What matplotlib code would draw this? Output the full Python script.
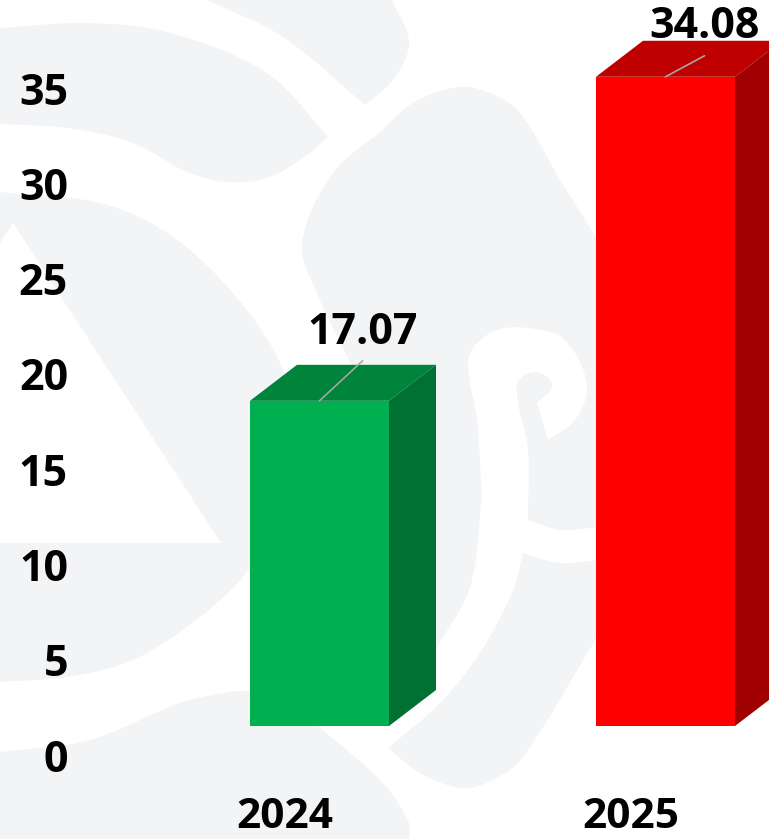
import matplotlib
matplotlib.use('Agg')
import matplotlib.pyplot as plt
from matplotlib.path import Path
from matplotlib.patches import PathPatch
from matplotlib.transforms import ScaledTranslation
import numpy as np

years = ['2024', '2025']
values = [17.07, 34.08]
y_ticks = [0, 5, 10, 15, 20, 25, 30, 35]

front_colors = ['#00B050', '#FF0000']
top_colors = ['#00843C', '#BF0000']
side_colors = ['#007033', '#A00000']
wm_color = '#F3F4F6'

W, H = 769, 839
PX_PER_UNIT = 19.05
PX_PER_CAT = 346

plt.rcParams['font.family'] = ['Open Sans', 'DejaVu Sans']
plt.rcParams['font.weight'] = 'bold'


def smooth(runs):
    # runs of points, corners only where two runs meet
    verts = [runs[0][0]]
    codes = [Path.MOVETO]
    for run in runs:
        p = np.array(run, float)
        for i in range(len(p) - 1):
            p1 = p[i]
            p2 = p[i + 1]
            seg = np.linalg.norm(p2 - p1)
            t1 = p2 - p[max(i - 1, 0)]
            t2 = p[min(i + 2, len(p) - 1)] - p1
            t1 = t1 / np.linalg.norm(t1)
            t2 = t2 / np.linalg.norm(t2)
            verts += [p1 + t1 * seg / 3, p2 - t2 * seg / 3, p2]
            codes += [Path.CURVE4] * 3
    verts.append(verts[0])
    codes.append(Path.CLOSEPOLY)
    return Path(np.array(verts, float), codes)


fig = plt.figure(figsize=(W / 100, H / 100), dpi=100)

# watermark behind the chart, in pixels
bg = fig.add_axes([0, 0, 1, 1])
bg.set_xlim(0, W)
bg.set_ylim(H, 0)
bg.axis('off')

shapes = [
    (wm_color, [[(0, 28), (83, 23), (167, 32), (267, 73), (328, 137)],
                [(328, 137), (303, 158), (267, 178), (227, 182), (187, 172), (133, 143), (67, 128), (0, 124)],
                [(0, 124), (0, 28)]]),
    (wm_color, [[(207, 0), (283, 37), (365, 105)],
                [(365, 105), (393, 80), (409, 43), (392, 0)],
                [(392, 0), (207, 0)]]),
    (wm_color, [[(0, 192), (100, 203), (167, 233), (233, 293), (283, 370), (292, 440), (285, 500), (250, 568),
                 (200, 617), (133, 660), (67, 677), (0, 682)],
                [(0, 682), (0, 192)]]),
    ('white', [[(0, 243), (13, 223)], [(13, 223), (221, 543)], [(221, 543), (0, 543)], [(0, 543), (0, 243)]]),
    (wm_color, [[(0, 752), (90, 740), (180, 703), (230, 692), (250, 692), (318, 726)],
                [(318, 726), (383, 783), (409, 823), (409, 839)],
                [(409, 839), (0, 839)], [(0, 839), (0, 752)]]),
    (wm_color, [[(380, 132), (333, 173), (302, 243), (317, 293), (350, 363)],
                [(350, 363), (400, 400)], [(400, 400), (400, 710)], [(400, 710), (388, 748)],
                [(388, 748), (420, 773), (462, 788), (493, 780), (523, 757), (597, 637)],
                [(597, 637), (640, 600)], [(640, 600), (640, 330)],
                [(640, 330), (597, 240), (560, 180), (520, 113), (490, 93), (458, 87), (413, 103), (380, 132)]]),
    ('white', [[(482, 497), (477, 420), (468, 365), (475, 345), (500, 329), (535, 329), (565, 340), (587, 385),
                (575, 420), (548, 440)],
               [(548, 440), (537, 403)],
               [(537, 403), (552, 385), (535, 372), (517, 385), (528, 450), (528, 520)],
               [(528, 520), (560, 530), (600, 527)], [(600, 527), (600, 560)],
               [(600, 560), (560, 563), (523, 553)],
               [(523, 553), (513, 590), (480, 653), (440, 703), (388, 748)],
               [(388, 748), (400, 710)], [(400, 710), (437, 647)],
               [(437, 647), (470, 587), (482, 497)]]),
]
for color, runs in shapes:
    bg.add_patch(PathPatch(smooth(runs), facecolor=color, edgecolor='none'))

# chart axes, y=0 at pixel row 757
left = 75
ax = fig.add_axes([left / W, (H - 757) / H, (W - left) / W, 757 / H])
ax.patch.set_alpha(0)
ax.set_ylim(0, 757 / PX_PER_UNIT)
ax.set_xlim((left - 285) / PX_PER_CAT, (W - 285) / PX_PER_CAT)
for s in ax.spines.values():
    s.set_visible(False)

x = np.arange(len(years))
ax.set_xticks(x, years)
ax.set_yticks(y_ticks)
ax.tick_params(axis='x', length=0, pad=29, labelsize=30.5)
ax.tick_params(axis='y', length=0, pad=5, labelsize=31)
for lbl in ax.get_yticklabels():
    lbl.set_transform(lbl.get_transform() + ScaledTranslation(0, 2 / 100, fig.dpi_scale_trans))

# fake 3D look of the original column chart
base = 31 / PX_PER_UNIT
bar_w = 139 / PX_PER_CAT
front_off = -35 / PX_PER_CAT
dx = 47 / PX_PER_CAT
dy = 36 / PX_PER_UNIT
label_off = [(43, 68), (39, 50)]
line_off = [(43, 40), (39, 21)]

for i, v in enumerate(values):
    x0 = x[i] + front_off
    x1 = x0 + bar_w
    y0 = base
    y1 = base + v
    ax.bar(x0, v, width=bar_w, bottom=base, align='edge', color=front_colors[i], linewidth=0, clip_on=False)
    ax.fill([x0, x0 + dx, x1 + dx, x1], [y1, y1 + dy, y1 + dy, y1], color=top_colors[i], linewidth=0, clip_on=False)
    ax.fill([x1, x1 + dx, x1 + dx, x1], [y0, y0 + dy, y1 + dy, y1], color=side_colors[i], linewidth=0, clip_on=False)
    xc = x0 + bar_w / 2
    ax.annotate('', xy=(xc, y1), xytext=line_off[i], textcoords='offset pixels',
                arrowprops=dict(arrowstyle='-', color='#A6A6A6', lw=1.2, shrinkA=0, shrinkB=0))
    ax.annotate(f'{v:.2f}', xy=(xc, y1), xytext=label_off[i], textcoords='offset pixels',
                ha='center', va='center', fontsize=31, color='black', annotation_clip=False)

fig.savefig('out.png', dpi=100, facecolor='white')
